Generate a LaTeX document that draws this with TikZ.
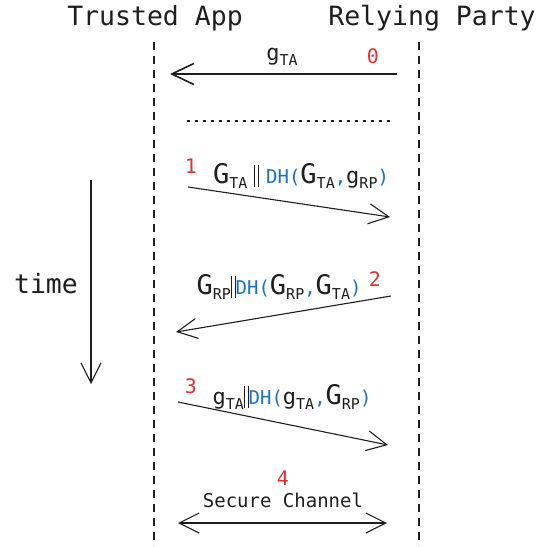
\documentclass[tikz,border=0pt]{standalone}
\usepackage{fontspec}
\setmainfont{DejaVu Sans Mono}
\usetikzlibrary{arrows.meta}
\definecolor{ink}{HTML}{1E1E1E}
\definecolor{exred}{HTML}{E03131}
\definecolor{exblue}{HTML}{1971C2}
\newcommand\Gbig{{\fontsize{27}{27}\selectfont G}}
\newcommand\gsm{{\fontsize{22}{22}\selectfont g}}
\newcommand\subs[1]{\raisebox{-4.5pt}{\fontsize{15}{15}\selectfont #1}}
\newcommand\bl[1]{\textcolor{exblue}{\fontsize{19}{19}\selectfont #1}}
\newcommand\dbar{\raisebox{-3pt}{\rule{0.9pt}{22pt}\hspace{3pt}\rule{0.9pt}{22pt}}}
\begin{document}
\begin{tikzpicture}[x=1pt,y=-1pt,
  every node/.style={text=ink, inner sep=0pt},
  title/.style={font=\fontsize{26.5}{26.5}\selectfont},
  num/.style={text=exred, font=\fontsize{20}{20}\selectfont},
  lifeline/.style={draw=ink, line width=1.2pt, dash pattern=on 8pt off 6pt},
  msg/.style={draw=ink, line width=1.1pt, -{Straight Barb[length=20pt,width=20pt,line width=1.1pt]}},
  bigmsg/.style={draw=ink, line width=2pt, -{Straight Barb[length=22pt,width=21pt,line width=1.6pt]}}
]
\useasboundingbox (0,0) rectangle (548,546);
% titles
\node[title] (ta) at (155,18) {Trusted App};
\node[title] (rp) at (432,18) {Relying Party};
% lifelines
\coordinate (taTop) at (154,42);
\coordinate (taBot) at (154,546);
\coordinate (rpTop) at (419,42);
\coordinate (rpBot) at (419,546);
\draw[lifeline] (taTop) -- (taBot);
\draw[lifeline] (rpTop) -- (rpBot);
% message 0
\coordinate (m0s) at (397,74);
\coordinate (m0e) at (170,74);
\draw[bigmsg] (m0s) -- (m0e);
\node (l0) at (282,57) {\gsm\subs{TA}};
\node[num] (n0) at (373,56) {0};
% dotted
\coordinate (d1) at (187,121);
\coordinate (d2) at (391,121);
\draw[ink, line width=1.5pt, dash pattern=on 2.5pt off 5.5pt] (d1) -- (d2);
% message 1
\coordinate (m1s) at (188,187);
\coordinate (m1e) at (390,217);
\draw[msg] (m1s) -- (m1e);
\node[num] (n1) at (191,166) {1};
\node (l1) at (301,176) {\Gbig\subs{TA}\kern7pt\dbar\kern7pt\bl{DH(}\Gbig\subs{TA}\bl{,}\gsm\subs{RP}\bl{)}};
% message 2
\coordinate (m2s) at (391,296);
\coordinate (m2e) at (176,332);
\draw[msg] (m2s) -- (m2e);
\node (l2) at (279,287) {\Gbig\subs{RP}\dbar\bl{DH(}\Gbig\subs{RP}\bl{,}\Gbig\subs{TA}\bl{)}};
\node[num] (n2) at (375,279) {2};
% message 3
\coordinate (m3s) at (178,402);
\coordinate (m3e) at (388,445);
\draw[msg] (m3s) -- (m3e);
\node[num] (n3) at (191,386) {3};
\node (l3) at (292,397) {\gsm\subs{TA}\dbar\bl{DH(}\gsm\subs{TA}\bl{,}\Gbig\subs{RP}\bl{)}};
% message 4
\coordinate (m4s) at (178,523);
\coordinate (m4e) at (387,523);
\draw[draw=ink, line width=1.1pt, {Straight Barb[length=20pt,width=20pt,line width=1.1pt]}-{Straight Barb[length=20pt,width=20pt,line width=1.1pt]}] (m4s) -- (m4e);
\node[num] (n4) at (283,478) {4};
\node[font=\fontsize{19}{19}\selectfont] (sc) at (283,500) {Secure Channel};
% time
\coordinate (t1) at (91,180);
\coordinate (t2) at (91,384);
\draw[msg] (t1) -- (t2);
\node[title] (time) at (46,284) {time};
\end{tikzpicture}
\end{document}
